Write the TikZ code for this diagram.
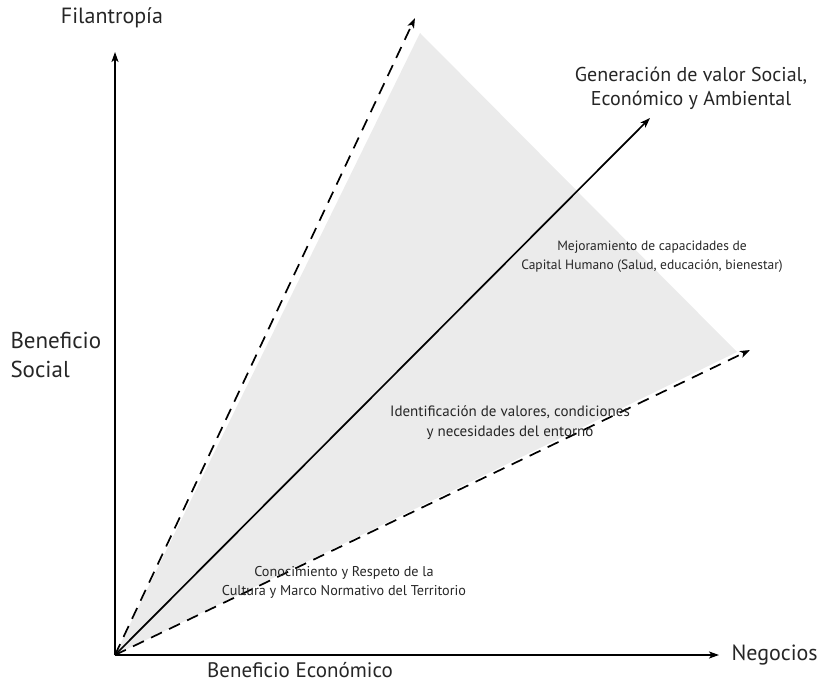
\documentclass[tikz,border=0pt]{standalone}
\usepackage{fontspec}
\setmainfont{PT Sans}
\usetikzlibrary{arrows.meta}

\tikzset{
  axis/.style={line width=1.7pt, -{Stealth[length=10pt,width=7pt,inset=2.5pt]}},
  dashaxis/.style={axis, dash pattern=on 12pt off 8pt},
  biglabel/.style={font=\fontsize{22}{27}\selectfont, text=black!85},
  smalllabel/.style={font=\fontsize{15}{20}\selectfont, text=black!85, align=center},
}

\begin{document}
\begin{tikzpicture}[x=1pt,y=-1pt]
	\useasboundingbox (0,0) rectangle (825,685);
	% points
	\coordinate (O) at (115,655);
	\coordinate (top) at (115,52);
	\coordinate (right) at (719,655);
	\coordinate (up) at (415,18);
	\coordinate (mid) at (650,118);
	\coordinate (low) at (750,350);
	
	% shaded zone
	\fill[black!8] (O) -- (420,33) -- (737,352) -- cycle;
	
	% axes
	\draw[axis] (O) -- (top);
	\draw[axis] (O) -- (right);
	\draw[dashaxis] (O) -- (up);
	\draw[dashaxis] (O) -- (low);
	\draw[axis] (O) -- (mid);
	
	% labels
	\node[biglabel] (fil) at (112,18) {Filantropía};
	\node[biglabel, font=\fontsize{23}{29}\selectfont, align=left, anchor=west] (social) at (7,355) {Beneficio\\Social};
	\node[biglabel, font=\fontsize{21}{25}\selectfont] (eco) at (300,670) {Beneficio Económico};
	\node[biglabel, anchor=west] (neg) at (728,655) {Negocios};
	\node[biglabel, font=\fontsize{20}{24}\selectfont, align=center] (gen) at (691,88) {Generación de valor Social,\\Económico y Ambiental};
	\node[smalllabel, font=\fontsize{13.5}{19}\selectfont] (mej) at (652,257) {Mejoramiento de capacidades de\\Capital Humano (Salud, educación, bienestar)};
	\node[smalllabel] (ide) at (510,423) {Identificación de valores, condiciones\\y necesidades del entorno};
	\node[smalllabel, font=\fontsize{14.2}{19}\selectfont] (con) at (344,582) {Conocimiento y Respeto de la\\Cultura y Marco Normativo del Territorio};
\end{tikzpicture}
\end{document}
